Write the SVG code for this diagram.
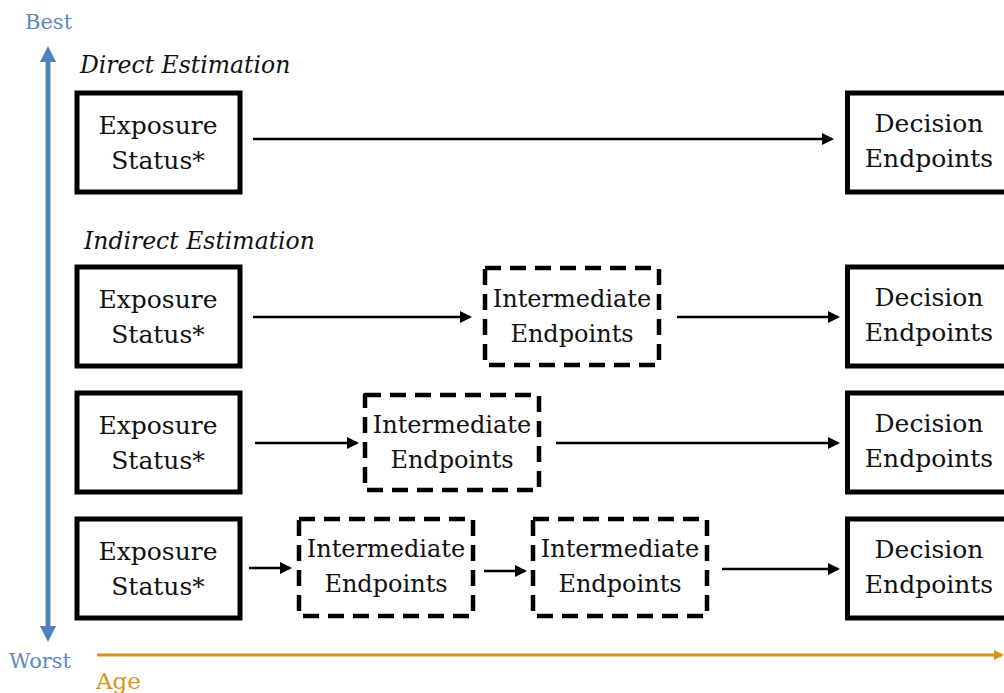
<svg xmlns="http://www.w3.org/2000/svg" width="1004" height="693" viewBox="0 0 1004 693">
  <style>
    .box { fill: #fff; stroke: #000; stroke-width: 5; }
    .dbox { fill: #fff; stroke: #000; stroke-width: 4.5; stroke-dasharray: 16 9; stroke-linejoin: round; }
    .lbl { font-family: "DejaVu Serif", "Liberation Serif", serif; font-size: 25px; fill: #111; text-anchor: middle; }
    .ilbl { font-size: 24px; }
    .hdr { font-family: "DejaVu Serif", "Liberation Serif", serif; font-size: 23.5px; font-style: italic; fill: #111; }
    .edge { stroke: #000; stroke-width: 2.5; fill: none; marker-end: url(#ah); }
    .axis-blue { font-family: "DejaVu Serif", "Liberation Serif", serif; font-size: 21px; fill: #5A87C6; }
    .axis-orange { font-family: "DejaVu Serif", "Liberation Serif", serif; font-size: 23px; fill: #D99418; }
  </style>
  <defs>
    <marker id="ah" markerWidth="12" markerHeight="12" refX="10" refY="6" orient="auto" markerUnits="userSpaceOnUse">
      <path d="M0,0 L12,6 L0,12 Z" fill="#000"/>
    </marker>
    <marker id="ahBlue" markerWidth="16" markerHeight="16" refX="10" refY="8" orient="auto" markerUnits="userSpaceOnUse">
      <path d="M0,0 L16,8 L0,16 Z" fill="#4F81BD"/>
    </marker>
    <marker id="ahOrange" markerWidth="10" markerHeight="10" refX="8" refY="5" orient="auto" markerUnits="userSpaceOnUse">
      <path d="M0,0 L10,5 L0,10 Z" fill="#D99418"/>
    </marker>
  </defs>

  <!-- quality axis (vertical) -->
  <g id="axis-quality">
    <line x1="48" y1="630" x2="48" y2="52" stroke="#4F81BD" stroke-width="4.5" marker-end="url(#ahBlue)"/>
    <line x1="48" y1="60" x2="48" y2="636" stroke="#4F81BD" stroke-width="4.5" marker-end="url(#ahBlue)"/>
    <text class="axis-blue" x="25" y="29">Best</text>
    <text class="axis-blue" x="9" y="668">Worst</text>
  </g>

  <!-- age axis (horizontal) -->
  <g id="axis-age">
    <line x1="97" y1="655" x2="1002" y2="655" stroke="#D99418" stroke-width="3" marker-end="url(#ahOrange)"/>
    <text class="axis-orange" x="96" y="689">Age</text>
  </g>

  <!-- section headers -->
  <text class="hdr" x="80" y="73">Direct Estimation</text>
  <text class="hdr" x="84" y="249">Indirect Estimation</text>

  <!-- row 1 -->
  <g id="exp1">
    <rect class="box" x="77" y="93" width="163" height="99"/>
    <text class="lbl" x="158" y="134">Exposure</text>
    <text class="lbl" x="158" y="169">Status*</text>
  </g>
  <g id="dec1">
    <rect class="box" x="847.5" y="93" width="163" height="99"/>
    <text class="lbl" x="929" y="132">Decision</text>
    <text class="lbl" x="929" y="167">Endpoints</text>
  </g>

  <!-- row 2 -->
  <g id="exp2">
    <rect class="box" x="77" y="267" width="163" height="99"/>
    <text class="lbl" x="158" y="308">Exposure</text>
    <text class="lbl" x="158" y="343">Status*</text>
  </g>
  <g id="int2">
    <rect class="dbox" x="485" y="268" width="174" height="97"/>
    <text class="lbl ilbl" x="572" y="307">Intermediate</text>
    <text class="lbl ilbl" x="572" y="342">Endpoints</text>
  </g>
  <g id="dec2">
    <rect class="box" x="847.5" y="267" width="163" height="99"/>
    <text class="lbl" x="929" y="306">Decision</text>
    <text class="lbl" x="929" y="341">Endpoints</text>
  </g>

  <!-- row 3 -->
  <g id="exp3">
    <rect class="box" x="77" y="393" width="163" height="99"/>
    <text class="lbl" x="158" y="434">Exposure</text>
    <text class="lbl" x="158" y="469">Status*</text>
  </g>
  <g id="int3">
    <rect class="dbox" x="365" y="395" width="174" height="95"/>
    <text class="lbl ilbl" x="452" y="433">Intermediate</text>
    <text class="lbl ilbl" x="452" y="468">Endpoints</text>
  </g>
  <g id="dec3">
    <rect class="box" x="847.5" y="393" width="163" height="99"/>
    <text class="lbl" x="929" y="432">Decision</text>
    <text class="lbl" x="929" y="467">Endpoints</text>
  </g>

  <!-- row 4 -->
  <g id="exp4">
    <rect class="box" x="77" y="519" width="163" height="99"/>
    <text class="lbl" x="158" y="560">Exposure</text>
    <text class="lbl" x="158" y="595">Status*</text>
  </g>
  <g id="int4a">
    <rect class="dbox" x="299" y="519" width="174" height="97"/>
    <text class="lbl ilbl" x="386" y="557">Intermediate</text>
    <text class="lbl ilbl" x="386" y="592">Endpoints</text>
  </g>
  <g id="int4b">
    <rect class="dbox" x="533" y="519" width="174" height="97"/>
    <text class="lbl ilbl" x="620" y="557">Intermediate</text>
    <text class="lbl ilbl" x="620" y="592">Endpoints</text>
  </g>
  <g id="dec4">
    <rect class="box" x="847.5" y="519" width="163" height="99"/>
    <text class="lbl" x="929" y="558">Decision</text>
    <text class="lbl" x="929" y="593">Endpoints</text>
  </g>

  <!-- connectors -->
  <g id="connectors">
    <line class="edge" x1="253" y1="139" x2="832" y2="139"/>
    <line class="edge" x1="253" y1="317" x2="470" y2="317"/>
    <line class="edge" x1="677" y1="317" x2="838" y2="317"/>
    <line class="edge" x1="255" y1="443" x2="357" y2="443"/>
    <line class="edge" x1="556" y1="443" x2="838" y2="443"/>
    <line class="edge" x1="249" y1="568" x2="290" y2="568"/>
    <line class="edge" x1="484" y1="571" x2="525" y2="571"/>
    <line class="edge" x1="722" y1="569" x2="838" y2="569"/>
  </g>
</svg>
